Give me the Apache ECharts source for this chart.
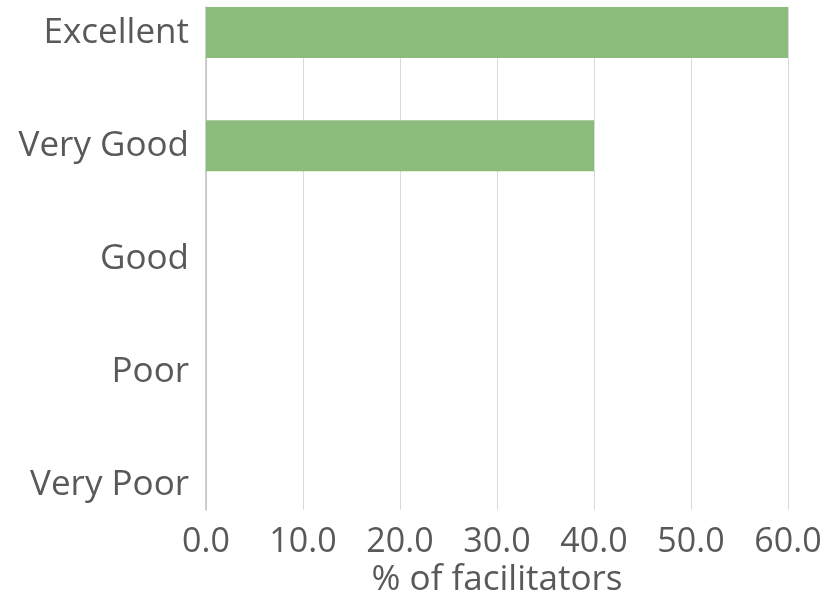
<!DOCTYPE html>
<html>
<head>
<meta charset="utf-8">
<title>Facilitator ratings</title>
<script src="https://cdn.jsdelivr.net/npm/echarts@6/dist/echarts.min.js"></script>
<style>
  html, body { margin: 0; padding: 0; background: #ffffff; }
  #chart { width: 840px; height: 599px; }
</style>
</head>
<body>
<div id="chart"></div>
<script>
// Rating categories, top to bottom
const categories = ['Excellent', 'Very Good', 'Good', 'Poor', 'Very Poor'];
// Share of facilitators giving each rating (%)
const percentValues = [60, 40, 0, 0, 0];
// Value-axis range and step
const xMin = 0;
const xMax = 60;
const xStep = 10;

const textColor = '#595959';
const fontFamily = '"Open Sans", "Noto Sans", sans-serif';

const chart = echarts.init(document.getElementById('chart'), null, { renderer: 'canvas' });

chart.setOption({
  animation: false,
  backgroundColor: '#ffffff',
  grid: [
    // bars and category labels
    { left: 206, right: 52, top: -24, height: 566, containLabel: false, outerBoundsMode: 'none' },
    // gridlines, left axis line and value labels
    { left: 206, right: 52, top: 7, height: 503, containLabel: false, outerBoundsMode: 'none' }
  ],
  xAxis: [
    { gridIndex: 0, type: 'value', min: xMin, max: xMax, interval: xStep, show: false },
    {
      gridIndex: 1, type: 'value', min: xMin, max: xMax, interval: xStep,
      axisLine: { show: false },
      axisTick: { show: false },
      splitLine: { show: true, lineStyle: { color: '#d9d9d9', width: 1 } },
      axisLabel: {
        color: textColor, fontSize: 34, fontFamily: fontFamily, margin: 15,
        formatter: v => v.toFixed(1)
      },
      name: '% of facilitators',
      nameLocation: 'middle',
      nameGap: 53,
      nameMoveOverlap: false,
      nameTextStyle: { color: textColor, fontSize: 35, fontFamily: fontFamily }
    }
  ],
  yAxis: [
    {
      gridIndex: 0, type: 'category', data: categories, inverse: true,
      axisLine: { show: false },
      axisTick: { show: false },
      splitLine: { show: false },
      axisLabel: { color: textColor, fontSize: 35, fontFamily: fontFamily, margin: 17 }
    },
    {
      gridIndex: 1, type: 'value', min: 0, max: 1,
      axisLine: { show: true, lineStyle: { color: '#bfbfbf', width: 1.5 } },
      axisTick: { show: false },
      axisLabel: { show: false },
      splitLine: { show: false }
    }
  ],
  series: [
    {
      type: 'bar',
      xAxisIndex: 0,
      yAxisIndex: 0,
      data: percentValues,
      barWidth: 51,
      itemStyle: { color: '#8cbc7c' },
      z: 3
    }
  ]
});
</script>
</body>
</html>
